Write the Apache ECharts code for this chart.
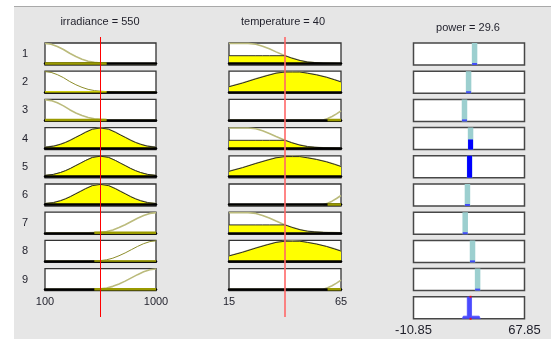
<!DOCTYPE html>
<html><head><meta charset="utf-8">
<script src="https://cdn.jsdelivr.net/npm/echarts@6/dist/echarts.min.js"></script>
<style>
html,body{margin:0;padding:0;background:#fff;}
#wrap{position:relative;width:551px;height:339px;}
#bg{position:absolute;left:14px;top:6px;right:0;bottom:0;background:#e6e6e6;border-top:1px solid #a9a9a9;}
#c{position:absolute;left:0;top:0;width:551px;height:339px;}
</style>
</head><body><div id="wrap"><div id="bg"></div><div id="c"></div></div>
<script>
// ---------------- data ----------------
const ruleLabels = ['1','2','3','4','5','6','7','8','9'];

const irrRange = [100, 1000];
const irrTicks = [100, 1000];
const irrInput = 550;

const tempRange = [15, 65];
const tempTicks = [15, 65];
const tempInput = 40;

const powerRange = [-10.85, 67.85];
const powerTicks = [-10.85, 67.85];
const powerOutput = 29.6;

// membership functions: [x, degree]
const irrLow  = [[100,1],[150,0.96],[200,0.85],[250,0.7],[300,0.51],[350,0.35],[400,0.22],[450,0.12],[500,0.06],[550,0.03],[600,0.01],[700,0],[1000,0]];
const irrMed  = [[100,0.05],[170,0.1],[225,0.19],[265,0.28],[305,0.39],[345,0.52],[390,0.66],[430,0.79],[485,0.94],[550,1],[615,0.94],[670,0.79],[710,0.66],[755,0.52],[795,0.39],[835,0.28],[875,0.19],[930,0.1],[1000,0.05]];
const irrHigh = [[100,0],[450,0],[500,0.01],[550,0.02],[600,0.06],[650,0.14],[700,0.26],[750,0.4],[800,0.56],[850,0.72],[900,0.86],[950,0.96],[1000,1]];

const tempLow  = [[15,1],[23.5,1],[27,0.96],[30,0.86],[33,0.73],[36,0.58],[40,0.39],[43,0.27],[46.7,0.15],[50,0.08],[53,0.05],[57,0.02],[61,0.01],[65,0]];
const tempMed  = [[15,0.25],[21,0.43],[27,0.64],[32,0.8],[36,0.92],[40,0.98],[43.3,1],[46.6,0.98],[50,0.92],[54,0.84],[58.5,0.72],[62,0.6],[65,0.49]];
const tempHigh = [[15,0],[57,0],[59,0.07],[61,0.17],[63,0.3],[65,0.45]];

// degree of each input MF at the current input
const irrDegree  = {low: 0, medium: 1, high: 0};
const tempDegree = {low: 0.39, medium: 0.98, high: 0};

// rule antecedents
const ruleIrr  = ['low','low','low','medium','medium','medium','high','high','high'];
const ruleTemp = ['low','medium','high','low','medium','high','low','medium','high'];

// rule consequents (constant outputs) and firing strengths
const ruleOutput   = [32.45, 28.2, 25.3, 29.6, 28.9, 27.4, 25.8, 31.0, 34.6];
const ruleStrength = [0, 0, 0, 0.46, 1, 0, 0, 0, 0];

// aggregated output shape
const aggregate = [[23.7,0],[24.5,0.12],[27.3,0.12],[27.3,1],[30.3,1],[30.3,0.12],[35.7,0.12],[36.5,0]];

// ---------------- chart ----------------
const FONT = '"Liberation Sans", Arial, Helvetica, sans-serif';
const TXT = '#1f1f2a';
const rowTop = i => 43 + i * 28.2;
const ROW_H = 22;
const plain = v => String(v);

const grids = [], xAxes = [], yAxes = [], series = [];
function addGrid(g, x, y) {
  grids.push(g);
  const gi = grids.length - 1;
  x.gridIndex = gi; y.gridIndex = gi;
  xAxes.push(x); yAxes.push(y);
  return gi;
}

const cols = [
  {left: 45, width: 111, range: irrRange, ticks: irrTicks, mfs: {low: irrLow, medium: irrMed, high: irrHigh},
   deg: irrDegree, rule: ruleIrr, input: irrInput, red: '#ff0000', redW: 1},
  {left: 229, width: 112, range: tempRange, ticks: tempTicks, mfs: {low: tempLow, medium: tempMed, high: tempHigh},
   deg: tempDegree, rule: ruleTemp, input: tempInput, red: '#ff6868', redW: 1.6}
];

cols.forEach((col, ci) => {
  for (let i = 0; i < 9; i++) {
    const name = col.rule[i];
    const mf = col.mfs[name];
    const d = col.deg[name];
    const idx = addGrid(
      {left: col.left, top: rowTop(i), width: col.width, height: ROW_H, show: true,
       backgroundColor: '#fff', borderColor: '#333333', borderWidth: 1.3},
      {type: 'value', min: col.range[0], max: col.range[1], z: 5,
       axisLine: {show: true, onZero: true, lineStyle: {color: '#000', width: 2.5}},
       axisTick: {show: false}, splitLine: {show: false},
       axisLabel: i === 8 ? {show: true, customValues: col.ticks, formatter: plain, margin: 6, fontSize: 11, color: TXT, fontFamily: FONT}
                          : {show: false}},
      {type: 'value', min: -0.07, max: 1.02, show: false}
    );
    const darkLine = (ci === 0 && ruleTemp[i] === 'medium');
    series.push({type: 'line', xAxisIndex: idx, yAxisIndex: idx, data: mf, showSymbol: false,
      silent: true, animation: false, z: 3,
      lineStyle: {color: darkLine ? '#8e8e2c' : '#bbbb7c', width: darkLine ? 1 : 1.6}});
    if (d > 0) {
      series.push({type: 'line', xAxisIndex: idx, yAxisIndex: idx,
        data: mf.map(p => [p[0], Math.min(p[1], d)]), showSymbol: false, silent: true, animation: false, z: 4,
        lineStyle: {color: '#2c2c2c', width: 1}, areaStyle: {color: '#ffff00', opacity: 1}});
    } else {
      const yellow = (ci === 0 && ruleTemp[i] === 'medium');
      series.push({type: 'line', xAxisIndex: idx, yAxisIndex: idx,
        data: mf.filter(p => p[1] > 0).map(p => [p[0], 0]), showSymbol: false, silent: true, animation: false, z: 12,
        lineStyle: {color: yellow ? '#ffff00' : '#9a9a00', width: yellow ? 1.2 : 2.5}});
    }
  }
  // input marker line across the column
  const ri = addGrid({left: col.left, top: 37, width: col.width, height: 280, show: false},
    {type: 'value', min: col.range[0], max: col.range[1], show: false},
    {type: 'value', min: 0, max: 1, show: false});
  series.push({type: 'line', xAxisIndex: ri, yAxisIndex: ri, data: [[col.input, 0], [col.input, 1]],
    showSymbol: false, silent: true, animation: false, z: 20, lineStyle: {color: col.red, width: col.redW}});
});

// output column
for (let i = 0; i < 10; i++) {
  const idx = addGrid(
    {left: 413.5, top: rowTop(i), width: 111, height: ROW_H, show: true,
     backgroundColor: '#fff', borderColor: '#474747', borderWidth: 1.5},
    {type: 'value', min: powerRange[0], max: powerRange[1],
     axisLine: {show: false}, axisTick: {show: false}, splitLine: {show: false},
     axisLabel: i === 9 ? {show: true, customValues: powerTicks, formatter: plain, margin: 5, fontSize: 13, color: TXT, fontFamily: FONT}
                        : {show: false}},
    {type: 'value', min: 0, max: 1, show: false}
  );
  if (i < 9) {
    const c = ruleOutput[i], w = ruleStrength[i];
    series.push({type: 'line', xAxisIndex: idx, yAxisIndex: idx, data: [[c, 0], [c, 1]], showSymbol: false,
      silent: true, animation: false, z: 3, lineStyle: {color: '#9ccfcf', width: 5.5}});
    if (w > 0) {
      series.push({type: 'line', xAxisIndex: idx, yAxisIndex: idx, data: [[c, 0], [c, w]], showSymbol: false,
        silent: true, animation: false, z: 4, lineStyle: {color: '#0000ff', width: 5}});
    } else {
      series.push({type: 'scatter', xAxisIndex: idx, yAxisIndex: idx, data: [[c, 0]], symbol: 'rect',
        symbolSize: [5, 2], symbolOffset: [0, -1], silent: true, animation: false, z: 4,
        itemStyle: {color: '#2a2aff'}});
    }
  } else {
    series.push({type: 'line', xAxisIndex: idx, yAxisIndex: idx, data: aggregate, showSymbol: false,
      silent: true, animation: false, z: 3, lineStyle: {color: '#4a4aff', width: 0.8},
      areaStyle: {color: '#4a4aff', opacity: 1}});
    series.push({type: 'scatter', xAxisIndex: idx, yAxisIndex: idx, data: [[powerOutput, 1], [powerOutput, 0]],
      symbol: 'rect', symbolSize: [2, 2], silent: true, animation: false, z: 20, clip: false,
      itemStyle: {color: '#ff0000'}});
  }
}

// texts
const graphic = [];
function txt(text, x, y, size) {
  graphic.push({type: 'text', x: x, y: y, silent: true, z: 30,
    style: {text: text, fill: TXT, font: size + 'px ' + FONT, textAlign: 'center', textVerticalAlign: 'middle',
            align: 'center', verticalAlign: 'middle'}});
}
txt('irradiance = ' + irrInput, 100, 22, 11);
txt('temperature = ' + tempInput, 283, 22, 11);
txt('power = ' + powerOutput, 468, 28, 11);
ruleLabels.forEach((l, i) => txt(l, 25, rowTop(i) + 11, 11));

const chart = echarts.init(document.getElementById('c'), null, {renderer: 'canvas'});
chart.setOption({
  animation: false,
  backgroundColor: 'transparent',
  grid: grids, xAxis: xAxes, yAxis: yAxes, series: series, graphic: graphic
});
</script>
</body></html>
